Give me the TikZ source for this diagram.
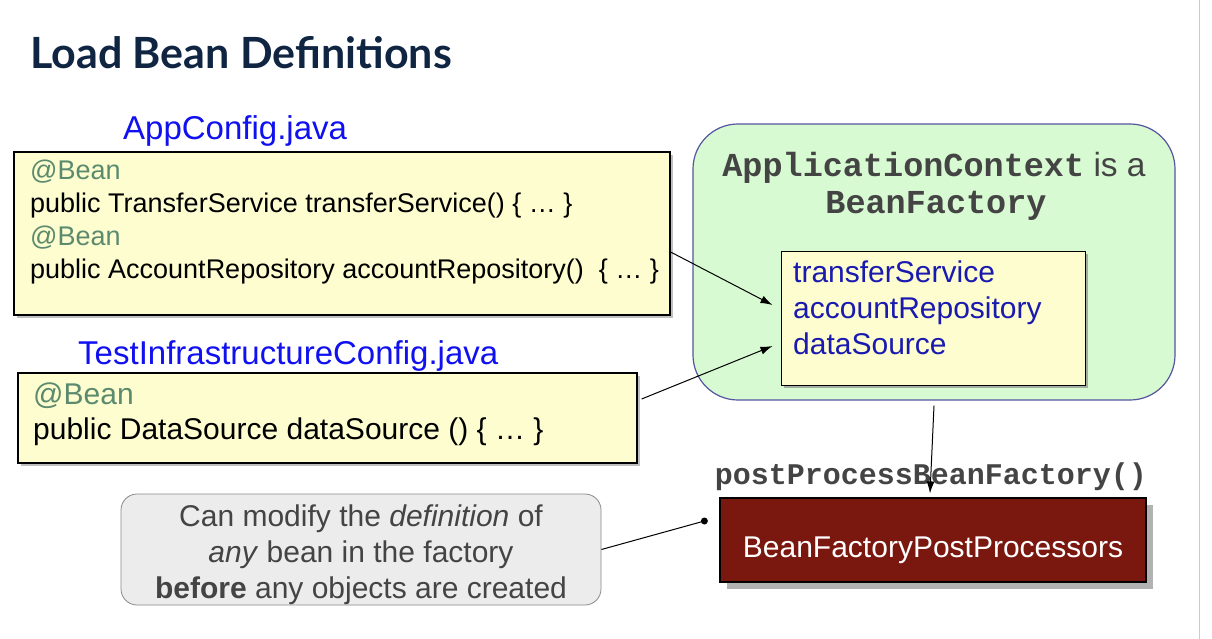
\documentclass[tikz,border=0pt]{standalone}
\usepackage{fontspec}
\setmainfont{Liberation Sans}
\newfontfamily\monofont{Liberation Mono}
\newfontfamily\titlefont{Lato}
\usetikzlibrary{shadows,arrows.meta,calc}
\definecolor{titlecol}{HTML}{0F2542}
\definecolor{filecol}{HTML}{1010F0}
\definecolor{beancol}{HTML}{5B8A6E}
\definecolor{codebg}{HTML}{FDFDCF}
\definecolor{ctxbg}{HTML}{D8FAD2}
\definecolor{ctxborder}{HTML}{5555A0}
\definecolor{namecol}{HTML}{1A1AB0}
\definecolor{monocol}{HTML}{444444}
\definecolor{notebg}{HTML}{ECECEC}
\definecolor{noteborder}{HTML}{8A8A8A}
\definecolor{notetext}{HTML}{444444}
\definecolor{bfppbg}{HTML}{7A1810}
\tikzset{
  titlestyle/.style={inner sep=0pt, font=\titlefont\bfseries\fontsize{43}{47}\selectfont, text=titlecol},
  filestyle/.style={inner sep=0pt, font=\fontsize{33}{38}\selectfont, text=filecol},
  codebox/.style={draw=black, line width=1.2pt, fill=codebg, inner sep=0pt,
    drop shadow={shadow xshift=3pt, shadow yshift=-3pt, fill=black!50, opacity=0.5}},
  codeline/.style={inner sep=0pt, anchor=base west},
  ctxbox/.style={draw=ctxborder, line width=1.2pt, fill=ctxbg, rounded corners=45pt, inner sep=0pt},
  monotext/.style={inner sep=0pt, font=\monofont\bfseries\fontsize{33.5}{38}\selectfont, text=monocol},
  beanname/.style={inner sep=0pt, anchor=base west, font=\fontsize{30}{36}\selectfont, text=namecol},
  notebox/.style={draw=noteborder, line width=0.8pt, fill=notebg, rounded corners=16pt, inner sep=0pt},
  notetextstyle/.style={inner sep=0pt, anchor=base, font=\fontsize{30}{36}\selectfont, text=notetext},
  bfppbox/.style={draw=black, line width=1.2pt, fill=bfppbg, inner sep=0pt,
    drop shadow={shadow xshift=7pt, shadow yshift=-7pt, fill=black!55, opacity=0.55}},
  conn/.style={draw=black, line width=1pt},
  arrowconn/.style={conn, -{Latex[length=12pt,width=8pt]}},
}
\begin{document}
\begin{tikzpicture}[x=1pt,y=-1pt]
\useasboundingbox (0,0) rectangle (1212,639);
\fill[white] (0,0) rectangle (1212,639);
\draw[black!20, line width=1pt] (1199,0) -- (1199,639);

% title
\node[titlestyle, anchor=base west] (title) at (30,69) {Load Bean Definitions};

% AppConfig
\node[filestyle, anchor=base west] (appcfg) at (123,140) {AppConfig.java};
\node[codebox, minimum width=656pt, minimum height=163pt] (box1) at (342,233.5) {};
\node[codeline, font=\fontsize{27}{33}\selectfont, text=beancol] (c1a) at (30,180) {@Bean};
\node[codeline, font=\fontsize{27}{33}\selectfont] (c1b) at (30,212) {public TransferService transferService() \{ … \}};
\node[codeline, font=\fontsize{27}{33}\selectfont, text=beancol] (c1c) at (30,245) {@Bean};
\node[codeline, font=\fontsize{27}{33}\selectfont] (c1d) at (30,278) {public AccountRepository accountRepository()\ \ \{ … \}};

% TestInfrastructureConfig
\node[filestyle, anchor=base west] (testcfg) at (78,364) {TestInfrastructureConfig.java};
\node[codebox, minimum width=619pt, minimum height=90pt] (box2) at (327.5,418) {};
\node[codeline, font=\fontsize{30}{35}\selectfont, text=beancol] (c2a) at (33,404) {@Bean};
\node[codeline, font=\fontsize{30}{35}\selectfont] (c2b) at (33,439) {public DataSource dataSource () \{ … \}};

% ApplicationContext
\node[ctxbox, minimum width=482pt, minimum height=276pt] (ctx) at (934,262) {};
\node[monotext, anchor=base] (ctxl1) at (934,177) {ApplicationContext{\rmfamily\mdseries\ is a}};
\node[monotext, anchor=base] (ctxl2) at (936,214) {BeanFactory};
\node[codebox, minimum width=304pt, minimum height=134pt, line width=1pt,
  drop shadow={shadow xshift=3pt, shadow yshift=-3pt, fill=black!40, opacity=0.4}] (beans) at (933,318) {};
\node[beanname] (b1) at (793,282) {transferService};
\node[beanname] (b2) at (793,318) {accountRepository};
\node[beanname] (b3) at (793,354) {dataSource};

% post processors
\node[monotext, anchor=base, font=\monofont\bfseries\fontsize{30}{34}\selectfont] (ppbf) at (931,484) {postProcessBeanFactory()};
\node[bfppbox, minimum width=426pt, minimum height=84pt] (bfpp) at (933,540) {};
\node[inner sep=0pt, anchor=base, font=\fontsize{30}{36}\selectfont, text=white] (bfppt) at (933,557) {BeanFactoryPostProcessors};

% note
\node[notebox, minimum width=480pt, minimum height=111pt] (note) at (361,549.5) {};
\node[notetextstyle] (n1) at (361,526) {Can modify the \textit{definition} of};
\node[notetextstyle] (n2) at (361,562) {\textit{any} bean in the factory};
\node[notetextstyle] (n3) at (361,598) {\textbf{before} any objects are created};

% connectors
\draw[arrowconn] ([yshift=-18.5pt]box1.east) -- ([xshift=-8pt,yshift=13pt]beans.west);
\draw[arrowconn] ([xshift=4pt,yshift=19pt]box2.east) -- ([xshift=-8pt,yshift=-28pt]beans.west);
\draw[arrowconn] ([yshift=-5pt]ctx.south) -- ([xshift=-3pt,yshift=4pt]bfpp.north);
\coordinate (dot) at ([xshift=-15pt,yshift=19pt]bfpp.west);
\draw[conn] (note.east) -- (dot);
\fill[black] (dot) circle (3.5pt);
\end{tikzpicture}
\end{document}
